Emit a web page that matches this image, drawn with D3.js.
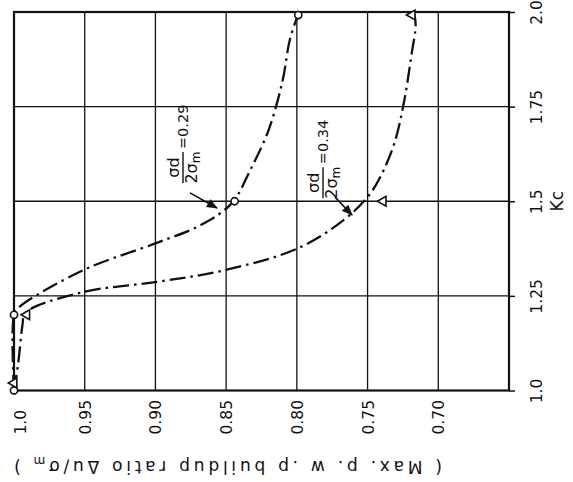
<!DOCTYPE html>
<html><head><meta charset="utf-8">
<script src="https://cdn.jsdelivr.net/npm/d3@7"></script>
<style>
body{margin:0;background:#fff}
svg{display:block}
text{font-family:"DejaVu Sans","Liberation Sans",sans-serif;fill:#111}
</style>
</head><body>
<svg id="c" width="573" height="482"></svg>
<script>
// ---- data ----
const kcDomain = [1.0, 2.0];
const ratioDomain = [1.0, 0.65];
const kcTicks = [1.0, 1.25, 1.5, 1.75, 2.0];
const kcLabels = ["1.0", "1.25", "1.5", "1.75", "2.0"];
const ratioTicks = [1.0, 0.95, 0.90, 0.85, 0.80, 0.75, 0.70];
const ratioLabels = ["1.0", "0.95", "0.90", "0.85", "0.80", "0.75", "0.70"];
const kcGrid = [1.25, 1.5, 1.75];
const ratioGrid = [0.95, 0.90, 0.85, 0.80, 0.75, 0.70];

// sigma_d / 2 sigma_m = 0.29 (circles)
const curveA_kc    = [1.0, 1.2, 1.218, 1.318, 1.39, 1.437, 1.495, 1.582, 1.688, 1.82, 1.926, 1.995];
const curveA_ratio = [1.0, 1.0, 0.997, 0.951, 0.899, 0.868, 0.846, 0.833, 0.820, 0.810, 0.805, 0.799];
const circleKc    = [1.0, 1.2, 1.5, 1.992];
const circleRatio = [1.0, 1.0, 0.844, 0.799];

// sigma_d / 2 sigma_m = 0.34 (triangles)
const curveB_kc    = [1.0, 1.073, 1.173, 1.205, 1.26, 1.287, 1.318, 1.376, 1.45, 1.511, 1.564, 1.654, 1.767, 1.886, 1.966, 1.995];
const curveB_ratio = [1.0, 0.997, 0.994, 0.992, 0.951, 0.899, 0.851, 0.799, 0.767, 0.750, 0.741, 0.731, 0.724, 0.719, 0.716, 0.717];
const triKc    = [1.02, 1.2, 1.5, 1.992];
const triRatio = [1.0, 0.991, 0.739, 0.7185];

// annotation labels: value, label anchor (kc, ratio), arrow from / to (kc, ratio)
const annValues   = ["0.29", "0.34"];
const annKc       = [1.548, 1.508];
const annRatio    = [0.8805, 0.7815];
const arrowFromKc = [1.522, 1.511];
const arrowFromR  = [0.8756, 0.773];
const arrowToKc   = [1.482, 1.4636];
const arrowToR    = [0.8565, 0.761];

const titleText = "( Max. p. w .p buildup ratio  Δu/σ";
const xTitle = "Kc";

// ---- scales ----
const svg = d3.select("#c");
const kc = d3.scaleLinear().domain(kcDomain).range([390.5, 12]);
const r  = d3.scaleLinear().domain(ratioDomain).range([14, 509]);

const ink = "#111";

// defs: arrowhead
svg.append("defs").append("marker")
  .attr("id", "ah").attr("viewBox", "0 0 10 10").attr("refX", 9).attr("refY", 5)
  .attr("markerWidth", 7).attr("markerHeight", 7).attr("orient", "auto")
  .append("path").attr("d", "M0,1 L10,5 L0,9 Z").attr("fill", ink);

// gridlines
svg.append("g").selectAll("line").data(kcGrid).join("line")
  .attr("x1", r(ratioDomain[0])).attr("x2", r(ratioDomain[1]))
  .attr("y1", d => kc(d)).attr("y2", d => kc(d))
  .attr("stroke", ink).attr("stroke-width", 1.3);
svg.append("g").selectAll("line").data(ratioGrid).join("line")
  .attr("x1", d => r(d)).attr("x2", d => r(d))
  .attr("y1", kc(kcDomain[0])).attr("y2", kc(kcDomain[1]))
  .attr("stroke", ink).attr("stroke-width", 1.3);

// border
svg.append("rect")
  .attr("x", r(ratioDomain[0])).attr("y", kc(kcDomain[1]))
  .attr("width", r(ratioDomain[1]) - r(ratioDomain[0]))
  .attr("height", kc(kcDomain[0]) - kc(kcDomain[1]))
  .attr("fill", "none").attr("stroke", ink).attr("stroke-width", 2.2);

// Kc axis (right side)
const kAxis = svg.append("g").attr("transform", `translate(${r(ratioDomain[1])},0)`)
  .call(d3.axisRight(kc).tickValues(kcTicks).tickSize(6).tickFormat((d, i) => kcLabels[i]));
kAxis.select(".domain").remove();
kAxis.selectAll(".tick line").attr("stroke", ink).attr("stroke-width", 1.5);
kAxis.selectAll(".tick text")
  .attr("x", null).attr("y", null).attr("dy", "0.35em")
  .attr("transform", "translate(28,0) rotate(-90)")
  .attr("text-anchor", "middle").attr("font-size", 15.5).attr("fill", ink);
svg.append("text").text(xTitle)
  .attr("transform", `translate(557,${kc(1.5)}) rotate(-90)`)
  .attr("text-anchor", "middle").attr("dy", "0.35em").attr("font-size", 17);

// ratio axis (bottom)
const rAxis = svg.append("g").attr("transform", `translate(0,${kc(kcDomain[0])})`)
  .call(d3.axisBottom(r).tickValues(ratioTicks).tickSize(0).tickFormat((d, i) => ratioLabels[i]));
rAxis.select(".domain").remove();
rAxis.selectAll(".tick text")
  .attr("x", null).attr("y", null).attr("dy", "0.35em")
  .attr("transform", (d, i) => `translate(${i === 0 ? 6 : 0},44) rotate(-90)`)
  .attr("text-anchor", "start").attr("font-size", 15.5).attr("fill", ink);

// axis title (rotated 180)
const tt = svg.append("text")
  .attr("transform", "translate(228,467) rotate(180)")
  .attr("text-anchor", "middle").attr("dy", "0.35em").attr("font-size", 17)
  .attr("textLength", 428).attr("lengthAdjust", "spacing");
tt.append("tspan").text(titleText);
tt.append("tspan").text("m").attr("font-size", 12).attr("dy", 4);
tt.append("tspan").text(" )").attr("dy", -4);

// curves
const line = d3.line().x(d => r(d[1])).y(d => kc(d[0])).curve(d3.curveCatmullRom.alpha(0.5));
const dash = "16,5,2.5,5";
svg.append("path").datum(curveA_kc.map((k, i) => [k, curveA_ratio[i]]))
  .attr("d", line).attr("fill", "none").attr("stroke", ink).attr("stroke-width", 2.3)
  .attr("stroke-dasharray", dash);
svg.append("path").datum(curveB_kc.map((k, i) => [k, curveB_ratio[i]]))
  .attr("d", line).attr("fill", "none").attr("stroke", ink).attr("stroke-width", 2.3)
  .attr("stroke-dasharray", dash);

// markers
svg.append("g").selectAll("circle").data(circleKc).join("circle")
  .attr("cx", (d, i) => r(circleRatio[i])).attr("cy", d => kc(d)).attr("r", 3.6)
  .attr("fill", "#fff").attr("stroke", ink).attr("stroke-width", 1.6);
const tri = d3.symbol().type(d3.symbolTriangle).size(42);
svg.append("g").selectAll("path").data(triKc).join("path")
  .attr("d", tri)
  .attr("transform", (d, i) => `translate(${r(triRatio[i])},${kc(d)}) rotate(-90)`)
  .attr("fill", "#fff").attr("stroke", ink).attr("stroke-width", 1.6);

// annotations
annValues.forEach((v, i) => {
  const g = svg.append("g")
    .attr("transform", `translate(${r(annRatio[i])},${kc(annKc[i])}) rotate(-90)`);
  const barLen = 31;
  g.append("text").text("σd").attr("x", barLen / 2).attr("y", -4)
    .attr("text-anchor", "middle").attr("font-size", 16);
  g.append("line").attr("x1", 0).attr("x2", barLen).attr("y1", 0).attr("y2", 0)
    .attr("stroke", ink).attr("stroke-width", 1.4);
  const den = g.append("text").attr("x", barLen / 2).attr("y", 14)
    .attr("text-anchor", "middle").attr("font-size", 16);
  den.append("tspan").text("2σ");
  den.append("tspan").text("m").attr("font-size", 12).attr("dy", 3);
  g.append("text").text("=" + v).attr("x", barLen + 3).attr("y", 5)
    .attr("text-anchor", "start").attr("font-size", 14.5);
  svg.append("line")
    .attr("x1", r(arrowFromR[i])).attr("y1", kc(arrowFromKc[i]))
    .attr("x2", r(arrowToR[i])).attr("y2", kc(arrowToKc[i]))
    .attr("stroke", ink).attr("stroke-width", 1.6).attr("marker-end", "url(#ah)");
});
</script>
</body></html>
